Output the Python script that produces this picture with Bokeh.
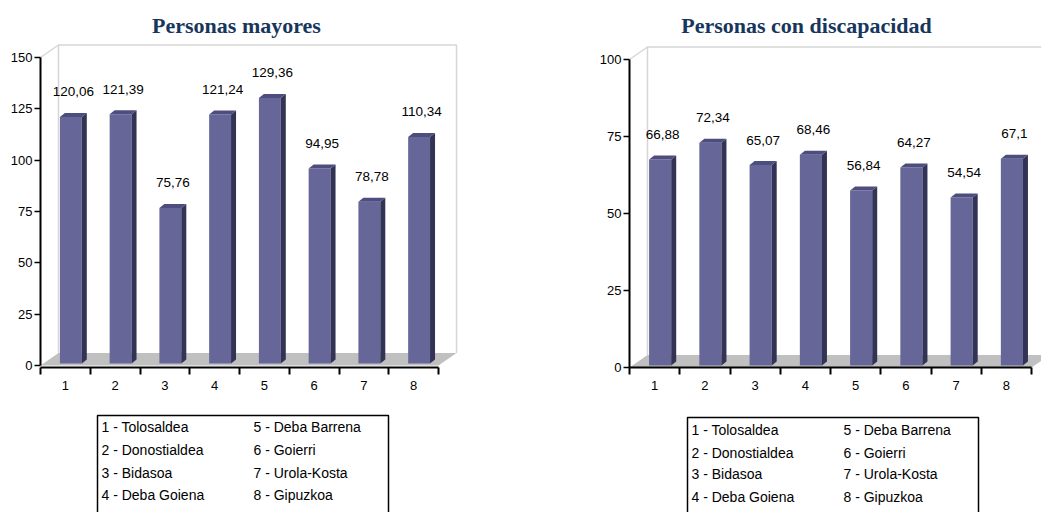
from bokeh.plotting import figure
from bokeh.layouts import row, column
from bokeh.models import FixedTicker, Range1d
from bokeh.core.properties import value
from bokeh.embed import file_html
from bokeh.resources import INLINE

# ---------------- data ----------------
categories = [1, 2, 3, 4, 5, 6, 7, 8]
mayores = [120.06, 121.39, 75.76, 121.24, 129.36, 94.95, 78.78, 110.34]
mayores_labels = ["120,06", "121,39", "75,76", "121,24", "129,36", "94,95", "78,78", "110,34"]
discapacidad = [66.88, 72.34, 65.07, 68.46, 56.84, 64.27, 54.54, 67.1]
discapacidad_labels = ["66,88", "72,34", "65,07", "68,46", "56,84", "64,27", "54,54", "67,1"]
mayores_yticks = [0, 25, 50, 75, 100, 125, 150]
discapacidad_yticks = [0, 25, 50, 75, 100]
region_names = ["Tolosaldea", "Donostialdea", "Bidasoa", "Deba Goiena",
                "Deba Barrena", "Goierri", "Urola-Kosta", "Gipuzkoa"]
titles = ["Personas mayores", "Personas con discapacidad"]

FONT = "Liberation Sans"
FRONT = "#666699"
SIDE = "#333355"
TOP = "#4D4D80"
FLOOR = "#C0C0C0"
WALL = "#D6D6D6"
TITLE_COLOR = "#17365D"

FRAME_H = 367       # frame spans from the top of the page down to the x axis
BORDER_BOTTOM = 38


def bar_chart(title, vals, labels, yticks, border_left, border_right, frame_w,
              px_per_cat, px_per_unit, zero_lift_px, title_cx, title_base):
    ymax = yticks[-1]
    n = len(categories)
    x0 = 0.5
    x_end = x0 + frame_w / px_per_cat
    y_start = -zero_lift_px / px_per_unit
    y_end = y_start + FRAME_H / px_per_unit
    p = figure(width=border_left + frame_w + border_right,
               height=FRAME_H + BORDER_BOTTOM,
               x_range=Range1d(x0, x_end), y_range=Range1d(y_start, y_end),
               output_backend="svg", toolbar_location=None,
               min_border_left=border_left, min_border_right=border_right,
               min_border_top=0, min_border_bottom=BORDER_BOTTOM)
    p.outline_line_color = None
    p.xgrid.visible = False
    p.ygrid.visible = False
    p.background_fill_color = "white"
    p.border_fill_color = "white"

    # title (pixel position converted to data units)
    tx = x0 + (title_cx - border_left) / px_per_cat
    ty = y_start + (FRAME_H - title_base) / px_per_unit
    p.text(x=[tx], y=[ty], text=[title], text_font=value("Liberation Serif"),
           text_font_style="bold", text_font_size="22px", text_color=TITLE_COLOR,
           text_align="center", text_baseline="alphabetic")

    # 3D wall/floor offsets (pixels -> data units)
    wdx = 18 / px_per_cat
    wdy = 12.5 / px_per_unit
    x_last = x0 + n
    # floor
    p.patch([x0, x_last, x_last + wdx, x0 + wdx], [0, 0, wdy, wdy],
            fill_color=FLOOR, line_color=None)
    # walls
    p.line([x0 + wdx, x0 + wdx, x_last + wdx, x_last + wdx],
           [wdy, ymax + wdy, ymax + wdy, wdy], line_color=WALL, line_width=1.5)
    p.line([x0, x0 + wdx], [ymax, ymax + wdy], line_color=WALL, line_width=1.5)

    # bars
    fl, fr = -0.11, 0.33
    bdx = 5 / px_per_cat
    bdy = 4 / px_per_unit
    lift = 2 / px_per_unit
    lefts = [c + fl for c in categories]
    rights = [c + fr for c in categories]
    tops = [v + lift for v in vals]
    side_xs, side_ys, top_xs, top_ys = [], [], [], []
    for l, r, t in zip(lefts, rights, tops):
        side_xs.append([r, r + bdx, r + bdx, r])
        side_ys.append([lift, lift + bdy, t + bdy, t])
        top_xs.append([l, r, r + bdx, l + bdx])
        top_ys.append([t, t, t + bdy, t + bdy])
    p.quad(left=lefts, right=rights, bottom=lift, top=tops,
           fill_color=FRONT, line_color=None)
    p.patches(side_xs, side_ys, fill_color=SIDE, line_color=None)
    p.patches(top_xs, top_ys, fill_color=TOP, line_color=None)

    # value labels
    p.text(x=[c + 0.16 for c in categories], y=vals, text=labels,
           text_font=value(FONT), text_font_size="13.5px", text_color="black",
           text_align="center", text_baseline="middle", y_offset=-27)

    # axes
    xa = p.xaxis[0]
    xa.ticker = FixedTicker(ticks=categories,
                            minor_ticks=[c - 0.5 for c in categories] + [categories[-1] + 0.5])
    xa.bounds = (x0, x_last)
    xa.major_tick_out = 0
    xa.major_tick_in = 0
    xa.minor_tick_out = 7
    xa.minor_tick_in = 0
    xa.minor_tick_line_color = "black"
    xa.minor_tick_line_width = 2
    xa.axis_line_color = "black"
    xa.axis_line_width = 2
    xa.major_label_standoff = 6
    xa.major_label_text_font = FONT
    xa.major_label_text_font_size = "13px"
    xa.major_label_text_color = "black"

    ya = p.yaxis[0]
    ya.ticker = FixedTicker(ticks=yticks, minor_ticks=[])
    ya.bounds = (0, ymax)
    ya.major_tick_out = 6
    ya.major_tick_in = 0
    ya.major_tick_line_color = "black"
    ya.major_tick_line_width = 1.5
    ya.minor_tick_out = 0
    ya.minor_tick_in = 0
    ya.axis_line_color = "black"
    ya.axis_line_width = 2
    ya.major_label_standoff = 2
    ya.major_label_text_font = FONT
    ya.major_label_text_font_size = "13px"
    ya.major_label_text_color = "black"
    return p


def legend_fig(border_left, border_right, frame_w, height, box_left, box_right,
               box_top, text_x1, text_x2, row_y):
    p = figure(width=border_left + frame_w + border_right, height=height,
               x_range=Range1d(border_left, border_left + frame_w),
               y_range=Range1d(height, 0), output_backend="svg",
               toolbar_location=None, min_border_left=border_left,
               min_border_right=border_right, min_border_top=0, min_border_bottom=0)
    p.axis.visible = False
    p.grid.visible = False
    p.outline_line_color = None
    p.line([box_left, box_left, box_right, box_right],
           [height + 5, box_top, box_top, height + 5],
           line_color="black", line_width=1.5)
    n = len(region_names)
    half = n // 2
    texts = [f"{i + 1} - {name}" for i, name in enumerate(region_names)]
    xs = [text_x1] * half + [text_x2] * (n - half)
    ys = list(row_y) + list(row_y)
    p.text(x=xs, y=ys, text=texts, text_font=value(FONT), text_font_size="14px",
           text_color="black", text_align="left", text_baseline="middle")
    return p


left = bar_chart(titles[0], mayores, mayores_labels, mayores_yticks,
                 border_left=40, border_right=68, frame_w=420,
                 px_per_cat=49.75, px_per_unit=308 / 150, zero_lift_px=2,
                 title_cx=236, title_base=25)
right = bar_chart(titles[1], discapacidad, discapacidad_labels, discapacidad_yticks,
                  border_left=101, border_right=0, frame_w=412,
                  px_per_cat=50.25, px_per_unit=308 / 100, zero_lift_px=0,
                  title_cx=806 - 528, title_base=25)

leg_left = legend_fig(40, 68, 420, 107, 97, 388, 10, 101, 253, [21.5, 44, 67, 89])
leg_right = legend_fig(101, 0, 412, 107, 159, 450, 12, 163, 315, [24, 47, 68, 91])

layout = row(column(left, leg_left, spacing=0), column(right, leg_right, spacing=0), spacing=0)

with open("out.html", "w") as f:
    f.write(file_html(layout, INLINE))
